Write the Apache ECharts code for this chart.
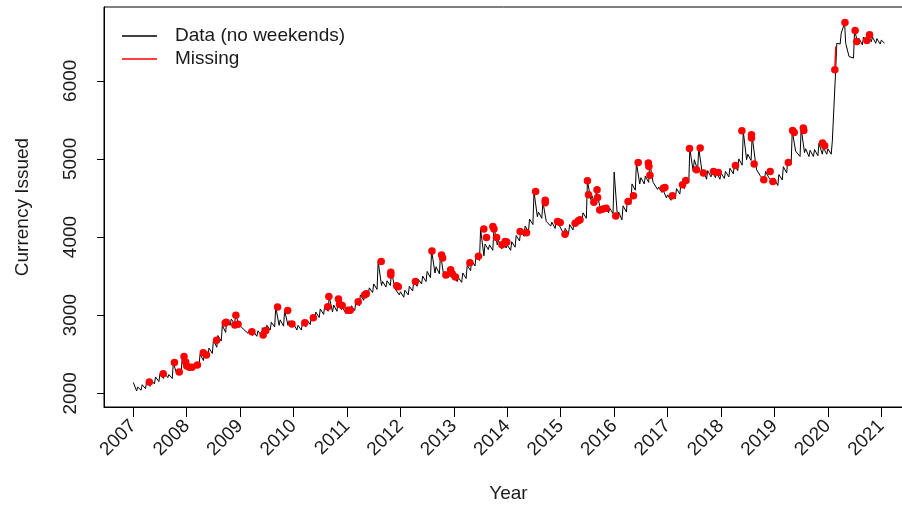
<!DOCTYPE html>
<html><head><meta charset="utf-8">
<script src="https://cdn.jsdelivr.net/npm/echarts@6/dist/echarts.min.js"></script>
<style>html,body{margin:0;padding:0;background:#fff}#c{width:902px;height:506px}</style>
</head><body><div id="c"></div>
<script>
// Monthly pairs: [start-of-month value, late-month value], Jan 2007 .. Jan 2021
const dataVals = [
// 2007
2140,2030, 2080,2040, 2110,2060, 2150,2090, 2170,2120, 2210,2150, 2250,2190, 2260,2200, 2240,2190, 2390,2250, 2310,2260, 2470,2320,
// 2008
2390,2320, 2370,2310, 2400,2350, 2500,2420, 2520,2460, 2580,2510, 2680,2590, 2740,2670, 2870,2780, 2940,2870, 2950,2890, 3000,2880,
// 2009
2900,2820, 2840,2770, 2800,2740, 2790,2730, 2800,2740, 2840,2770, 2870,2810, 2910,2850, 3105,2870, 2940,2860, 3060,2870, 2930,2850,
// 2010
2890,2810, 2870,2810, 2910,2850, 2940,2880, 2990,2930, 3040,2970, 3080,3010, 3120,3050, 3240,3040, 3130,3050, 3210,3070, 3100,3020,
// 2011
3090,3020, 3120,3060, 3190,3120, 3260,3190, 3310,3240, 3350,3290, 3400,3330, 3690,3380, 3430,3360, 3440,3380, 3560,3340, 3340,3260,
// 2012
3300,3230, 3320,3260, 3370,3310, 3440,3370, 3460,3400, 3500,3430, 3560,3480, 3830,3540, 3620,3530, 3780,3500, 3560,3480, 3540,3460,
// 2013
3500,3430, 3480,3420, 3540,3470, 3640,3570, 3700,3630, 3770,3700, 4100,3760, 3910,3840, 3900,3830, 4130,3900, 3960,3850, 3940,3860,
// 2014
3900,3830, 3940,3870, 4020,3950, 4080,4010, 4140,4070, 4230,4160, 4580,4260, 4320,4240, 4450,4200, 4220,4140, 4190,4110, 4210,4140,
// 2015
4120,4030, 4110,4040, 4160,4090, 4210,4150, 4250,4190, 4310,4240, 4720,4480, 4530,4420, 4600,4400, 4400,4320, 4380,4310, 4370,4300,
// 2016
4830,4250, 4320,4220, 4400,4320, 4500,4420, 4680,4600, 4950,4680, 4760,4680, 4780,4700, 4940,4700, 4680,4610, 4640,4570, 4600,4500,
// 2017
4540,4470, 4560,4490, 4620,4550, 4690,4620, 4760,4690, 5130,4840, 4990,4860, 5140,4830, 4860,4740, 4850,4770, 4840,4760, 4830,4740,
// 2018
4820,4750, 4840,4770, 4880,4810, 4920,4850, 5000,4920, 5350,4990, 5060,4980, 5290,4950, 4860,4790, 4800,4720, 4840,4760, 4780,4700,
// 2019
4740,4660, 4800,4730, 4900,4820, 5000,4940, 5360,5100, 5100,5030, 5390,5080, 5130,5030, 5110,5030, 5120,5040, 5200,5060, 5140,5060,
// 2020
5130,5060, 5230,6140, 6480,6470, 6610,6740, 6480,6310, 6300,6290, 6650,6470, 6540,6460, 6560,6500, 6590,6500, 6560,6480, 6540,6470,
// 2021
6520,6480
];
const missYears = [2007.30,2007.56,2007.77,2007.86,2007.95,2007.98,2008.00,2008.05,2008.10,2008.20,2008.31,2008.37,2008.56,2008.72,2008.74,2008.90,2008.92,2008.96,
2009.22,2009.43,2009.48,2009.70,2009.89,2009.97,2010.21,2010.37,2010.66,2010.64,2010.84,2010.86,2010.91,2011.02,2011.06,2011.21,2011.33,2011.36,2011.64,2011.82,2011.82,2011.93,2011.96,
2012.28,2012.59,2012.77,2012.79,2012.85,2012.94,2012.97,2013.03,2013.30,2013.46,2013.56,2013.61,2013.73,2013.75,2013.80,2013.90,2013.96,2013.99,
2014.24,2014.36,2014.53,2014.71,2014.71,2014.94,2014.99,2015.08,2015.27,2015.33,2015.36,2015.50,2015.52,2015.62,2015.68,2015.69,2015.73,2015.79,2015.85,
2016.03,2016.26,2016.36,2016.45,2016.64,2016.65,2016.67,2016.92,2016.95,2017.09,2017.28,2017.34,2017.41,2017.54,2017.61,2017.67,2017.86,2017.95,
2018.27,2018.39,2018.57,2018.57,2018.62,2018.80,2018.92,2018.97,2019.26,2019.34,2019.37,2019.54,2019.55,2019.90,2019.94,
2020.13,2020.32,2020.51,2020.54,2020.73,2020.78];
const missVals = [2145,2250,2395,2273,2470,2400,2350,2335,2335,2362,2520,2490,2678,2900,2910,2875,2999,2885,
2789,2747,2805,3105,3060,2888,2904,2968,3240,3109,3208,3140,3125,3063,3063,3173,3259,3275,3686,3550,3515,3378,3365,
3430,3820,3771,3733,3515,3580,3530,3490,3670,3755,4102,3993,4134,4104,3993,3900,3942,3935,
4070,4056,4582,4470,4440,4198,4185,4036,4177,4207,4220,4719,4540,4446,4604,4505,4345,4360,4369,
4270,4454,4527,4954,4946,4903,4790,4626,4634,4527,4668,4723,5133,4860,5138,4820,4838,4826,
4916,5360,5308,5266,4934,4732,4838,4710,4954,5364,5338,5394,5364,5202,5167,
6141,6746,6644,6503,6516,6589];
const missSegYears = [2020.13, 2020.15];
const missSegVals = [6141, 6440];
const xTicks = [2007,2008,2009,2010,2011,2012,2013,2014,2015,2016,2017,2018,2019,2020,2021];
const yTicks = [2000,3000,4000,5000,6000];

const lineData = dataVals.map((v,i)=>[2007 + Math.floor(i/2)/12 + (i%2)*0.75/12, v]);
const missData = missYears.map((x,i)=>[x, missVals[i]]);
const segData = missSegYears.map((x,i)=>[x, missSegVals[i]]);

const FONT = "'Liberation Sans', Arial, sans-serif";
const TXT = '#1a1a1a';
const chart = echarts.init(document.getElementById('c'), null, {renderer:'canvas'});
chart.setOption({
  animation:false,
  backgroundColor:'#fff',
  grid:{left:104, top:7, width:809, height:400, show:true, borderColor:'#000', borderWidth:1, backgroundColor:'transparent', containLabel:false, outerBoundsMode:'none'},
  legend:{
    orient:'vertical', left:122, top:26, padding:0, itemWidth:35, itemHeight:1.5, itemGap:3,
    textStyle:{fontFamily:FONT, fontSize:19, color:TXT, lineHeight:20, padding:[0,0,0,13]},
    data:[{name:'Data (no weekends)', icon:'rect', itemStyle:{color:'#000'}},{name:'Missing', icon:'rect', itemStyle:{color:'#ff0000'}}]
  },
  xAxis:{type:'value', min:2006.452, max:2021.593,
    name:'Year', nameLocation:'middle', nameGap:77, nameTextStyle:{fontFamily:FONT, fontSize:19, color:TXT},
    axisLine:{show:true, lineStyle:{color:'#000', width:1}},
    axisTick:{show:true, customValues:xTicks, length:10, lineStyle:{color:'#000'}},
    axisLabel:{customValues:xTicks, rotate:45, margin:16, fontFamily:FONT, fontSize:19, color:TXT, formatter:v=>String(v)},
    splitLine:{show:false}},
  yAxis:{type:'value', min:1825, max:6944,
    name:'Currency Issued', nameLocation:'middle', nameGap:72, nameTextStyle:{fontFamily:FONT, fontSize:19, color:TXT},
    axisLine:{show:true, lineStyle:{color:'#000', width:1}},
    axisTick:{show:true, customValues:yTicks, length:7, lineStyle:{color:'#000'}},
    axisLabel:{customValues:yTicks, rotate:90, margin:24, fontFamily:FONT, fontSize:19, color:TXT, formatter:v=>String(v)},
    splitLine:{show:false}},
  series:[
    {name:'Data (no weekends)', type:'line', data:lineData, showSymbol:false, lineStyle:{color:'#000', width:1}, itemStyle:{color:'#000'}, z:2},
    {name:'Missing seg', type:'line', data:segData, showSymbol:false, lineStyle:{color:'#ff0000', width:1.5}, z:3},
    {name:'Missing', type:'scatter', data:missData, symbolSize:7.5, itemStyle:{color:'#ff0000', opacity:1}, z:4}
  ]
});
</script></body></html>
